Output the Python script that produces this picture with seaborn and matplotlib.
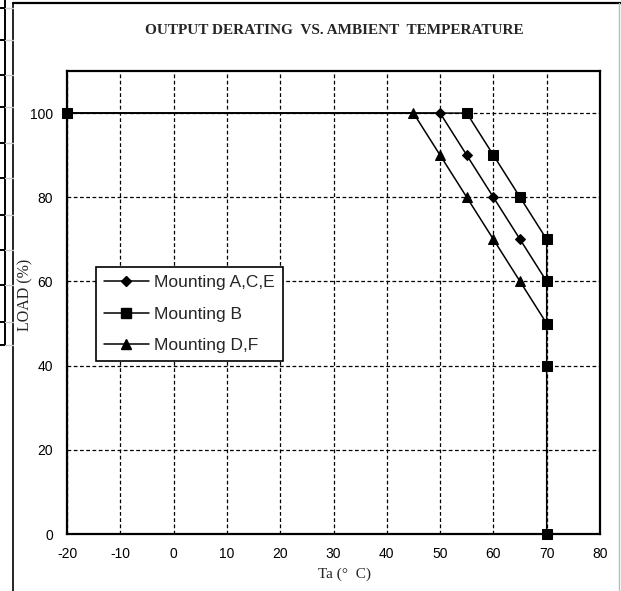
import matplotlib.pyplot as plt
from matplotlib.lines import Line2D
import seaborn as sns
import pandas as pd

# derating curves
ace_ta = [-20, 50, 55, 60, 65, 70]
ace_load = [100, 100, 90, 80, 70, 60]
b_ta = [-20, 55, 60, 65, 70, 70, 70, 70, 70]
b_load = [100, 100, 90, 80, 70, 60, 50, 40, 0]
df_ta = [-20, 45, 50, 55, 60, 65, 70]
df_load = [100, 100, 90, 80, 70, 60, 50]

series_names = ["Mounting A,C,E", "Mounting B", "Mounting D,F"]
x_ticks = list(range(-20, 81, 10))
y_ticks = list(range(0, 101, 20))

frames = []
for name, xs, ys in zip(series_names, [ace_ta, b_ta, df_ta], [ace_load, b_load, df_load]):
    frames.append(pd.DataFrame({"Ta": xs, "Load": ys, "Mounting": name}))
data = pd.concat(frames, ignore_index=True)

sns.set_theme(style="white")
plt.rcParams["font.family"] = ["Liberation Sans", "DejaVu Sans"]
plt.rcParams["axes.unicode_minus"] = False

fig = plt.figure(figsize=(6.21, 5.91), dpi=100, facecolor="white")
ax = fig.add_axes([67 / 621, 1 - 534 / 591, 533 / 621, 463 / 591])

markers = {"Mounting A,C,E": "D", "Mounting B": "s", "Mounting D,F": "^"}
sizes = {"Mounting A,C,E": 5.5, "Mounting B": 7, "Mounting D,F": 7.5}
for name in ["Mounting A,C,E", "Mounting D,F", "Mounting B"]:
    sub = data[data["Mounting"] == name]
    sns.lineplot(
        data=sub,
        x="Ta",
        y="Load",
        ax=ax,
        color="black",
        marker=markers[name],
        markersize=sizes[name],
        markeredgecolor="black",
        markerfacecolor="black",
        linewidth=1.1,
        sort=False,
        estimator=None,
        label=name,
        zorder=3 if name == "Mounting B" else 2,
        clip_on=False,
    )

ax.set_xlim(-20, 80)
ax.set_ylim(0, 110)
ax.set_xticks(x_ticks)
ax.set_yticks(y_ticks)
ax.tick_params(axis="y", length=0, labelsize=10, colors="black", pad=10)
ax.tick_params(axis="x", length=0, labelsize=10, colors="black", pad=9)
ax.grid(True, color="black", linestyle=(0, (3, 2)), linewidth=0.9)
for s in ax.spines.values():
    s.set_color("black")
    s.set_linewidth(1.6)

ax.set_xlabel("Ta (°  C)", family=["Liberation Serif"], fontsize=11, va="center")
ax.set_ylabel("LOAD (%)", family=["Liberation Serif"], fontsize=11.5, va="center")
ax.xaxis.set_label_coords(277 / 533, -40 / 463)
ax.yaxis.set_label_coords(-42 / 533, 239 / 463)

handles = [
    Line2D([], [], color="black", lw=1.1, marker=markers[n], markersize=sizes[n])
    for n in series_names
]
leg = ax.legend(
    handles,
    series_names,
    loc="upper left",
    bbox_to_anchor=(29 / 533, 267 / 463),
    borderaxespad=0,
    fontsize=12.5,
    frameon=True,
    fancybox=False,
    edgecolor="black",
    framealpha=1,
    handlelength=2.6,
    handletextpad=0.3,
    labelspacing=0.95,
    borderpad=0.45,
)
leg.get_frame().set_linewidth(1.2)

fig.text(
    334 / 621,
    1 - 31 / 591,
    "OUTPUT DERATING  VS. AMBIENT  TEMPERATURE",
    family=["Liberation Serif"],
    weight="bold",
    fontsize=11,
    ha="center",
    va="center",
)

# page frame around the chart and the cut-off table on the left
fig.add_artist(Line2D([13 / 621, 13 / 621], [0, 1 - 3 / 591], color="black", lw=1.2))
fig.add_artist(Line2D([13 / 621, 1], [1 - 3 / 591, 1 - 3 / 591], color="black", lw=1.6))
fig.add_artist(Line2D([619 / 621, 619 / 621], [0, 1 - 3 / 591], color="#bbbbbb", lw=1))
fig.add_artist(Line2D([5 / 621, 5 / 621], [1 - 345 / 591, 1], color="black", lw=1.4))
for yy in [8, 40, 75, 107, 143, 178, 215, 250, 285, 322, 345]:
    fig.add_artist(Line2D([0, 5 / 621], [1 - yy / 591] * 2, color="black", lw=1.4))
    fig.add_artist(Line2D([5 / 621, 13 / 621], [1 - yy / 591] * 2, color="#cccccc", lw=1))

fig.savefig("out.png", dpi=100, facecolor="white")
